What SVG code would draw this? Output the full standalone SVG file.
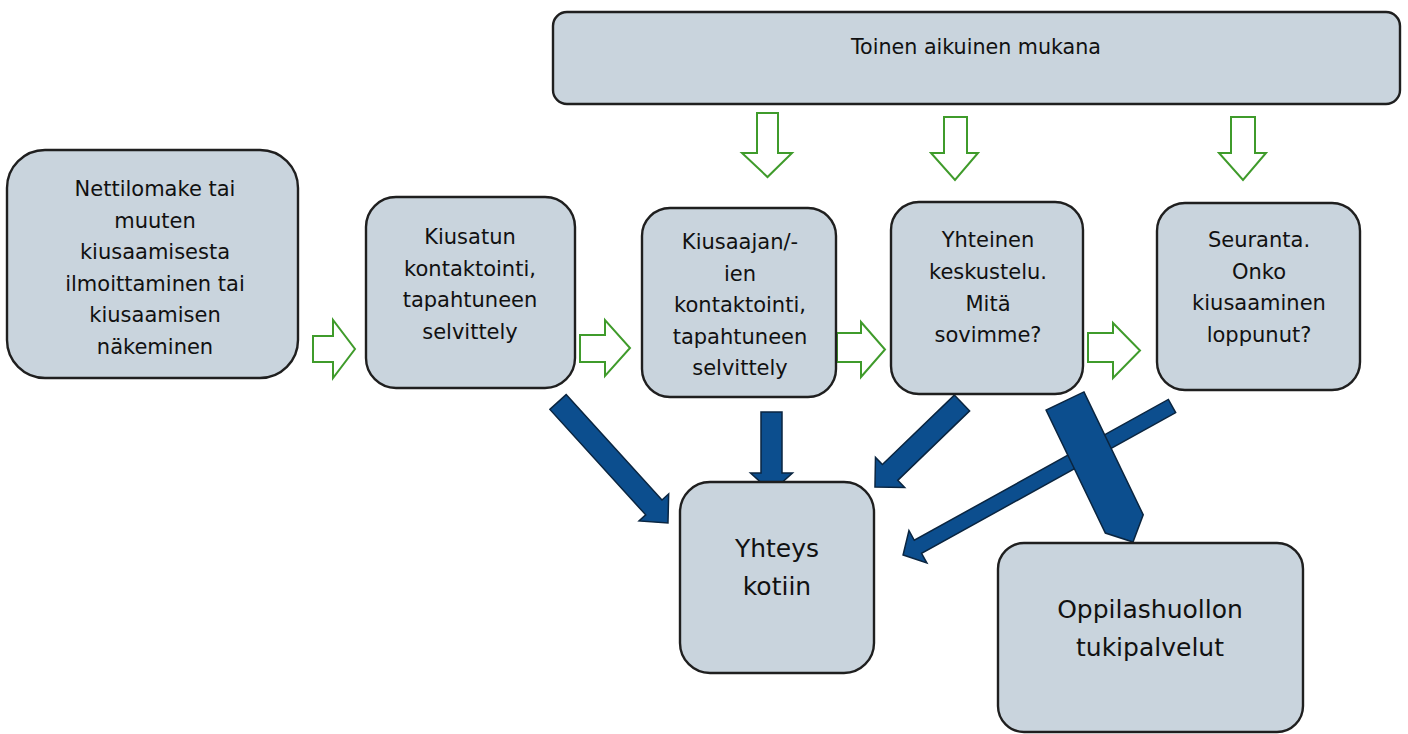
<svg xmlns="http://www.w3.org/2000/svg" width="1408" height="734" viewBox="0 0 1408 734">
<style>
.box{fill:#c9d4dd;stroke:#1f1f1f;stroke-width:2.4}
.t{font-family:"DejaVu Sans",sans-serif;font-size:21px;fill:#111;text-anchor:middle}
.tt{font-family:"DejaVu Sans",sans-serif;font-size:21px;fill:#111;text-anchor:middle}
.tl{font-family:"DejaVu Sans",sans-serif;font-size:25px;fill:#111;text-anchor:middle}
.g{fill:#ffffff;stroke:#3f9b2b;stroke-width:2;stroke-linejoin:miter}
.b{fill:#0c4e8e;stroke:#0a2540;stroke-width:1.5;stroke-linejoin:miter}
</style>
<rect width="1408" height="734" fill="#ffffff"/>
<g id="connectors">
<path class="g" d="M313,336 H333 V320 L355,349 L333,378 V362 H313 Z"/>
<path class="g" d="M580,335 H605 V320 L630,348 L605,376 V362 H580 Z"/>
<path class="g" d="M837,333 H861 V322 L885,349.5 L861,377 V362 H837 Z"/>
<path class="g" d="M1088,333 H1113 V323 L1140,350.5 L1113,378 V362 H1088 Z"/>
<path class="g" d="M757,113 H778 V153 H792 L767.5,177 L742,153 H757 Z"/>
<path class="g" d="M944,117 H967 V153 H978 L955,180 L931,153 H944 Z"/>
<path class="g" d="M1231,117 H1255 V153 H1266 L1243,180 L1219,153 H1231 Z"/>
<path class="b" transform="translate(558,402) rotate(47.73)" d="M0,-11 H142.5 V-20 L163.5,0 L142.5,20 V11 H0 Z"/>
<path class="b" transform="translate(771.5,412) rotate(90)" d="M0,-10.5 H61 V-21 L80,0 L61,21 V10.5 H0 Z"/>
<path class="b" transform="translate(962,403) rotate(136)" d="M0,-11 H100 V-21 L121,0 L100,21 V11 H0 Z"/>
<path class="b" transform="translate(1172,406) rotate(151)" d="M0,-7.5 H290.5 V-18.5 L307.5,0 L290.5,18.5 V7.5 H0 Z"/>
<path class="b" transform="translate(1065,401) rotate(64.25)" d="M0,-21 H136.5 L156.5,0 L136.5,21 H0 Z"/>
</g>
<g id="node-top">
<rect class="box" x="553" y="12" width="847" height="92" rx="14"/>
<text class="tt" x="976" y="54" textLength="250" lengthAdjust="spacingAndGlyphs">Toinen aikuinen mukana</text>
</g>
<g id="node-1">
<rect class="box" x="7" y="150" width="291" height="228" rx="38"/>
<text class="t" x="155" y="196">Nettilomake tai</text>
<text class="t" x="155" y="227.5">muuten</text>
<text class="t" x="155" y="259">kiusaamisesta</text>
<text class="t" x="155" y="290.5">ilmoittaminen tai</text>
<text class="t" x="155" y="322">kiusaamisen</text>
<text class="t" x="155" y="353.5">näkeminen</text>
</g>
<g id="node-2">
<rect class="box" x="366" y="197" width="209" height="191" rx="30"/>
<text class="t" x="470" y="244">Kiusatun</text>
<text class="t" x="470" y="275.5">kontaktointi,</text>
<text class="t" x="470" y="307">tapahtuneen</text>
<text class="t" x="470" y="338.5">selvittely</text>
</g>
<g id="node-3">
<rect class="box" x="642" y="208" width="194" height="189" rx="28"/>
<text class="t" x="740" y="249">Kiusaajan/-</text>
<text class="t" x="740" y="280.5">ien</text>
<text class="t" x="740" y="312">kontaktointi,</text>
<text class="t" x="740" y="343.5">tapahtuneen</text>
<text class="t" x="740" y="375">selvittely</text>
</g>
<g id="node-4">
<rect class="box" x="891" y="202" width="192" height="192" rx="28"/>
<text class="t" x="988" y="247">Yhteinen</text>
<text class="t" x="988" y="279">keskustelu.</text>
<text class="t" x="988" y="311">Mitä</text>
<text class="t" x="988" y="342">sovimme?</text>
</g>
<g id="node-5">
<rect class="box" x="1157" y="203" width="203" height="187" rx="28"/>
<text class="t" x="1259" y="247">Seuranta.</text>
<text class="t" x="1259" y="279">Onko</text>
<text class="t" x="1259" y="310">kiusaaminen</text>
<text class="t" x="1259" y="342">loppunut?</text>
</g>
<g id="node-yhteys">
<rect class="box" x="680" y="482" width="194" height="191" rx="30"/>
<text class="tl" x="777" y="557">Yhteys</text>
<text class="tl" x="777" y="595">kotiin</text>
</g>
<g id="node-oppilashuolto">
<rect class="box" x="998" y="543" width="305" height="189" rx="26"/>
<text class="tl" x="1150" y="618">Oppilashuollon</text>
<text class="tl" x="1150" y="656">tukipalvelut</text>
</g>
</svg>
